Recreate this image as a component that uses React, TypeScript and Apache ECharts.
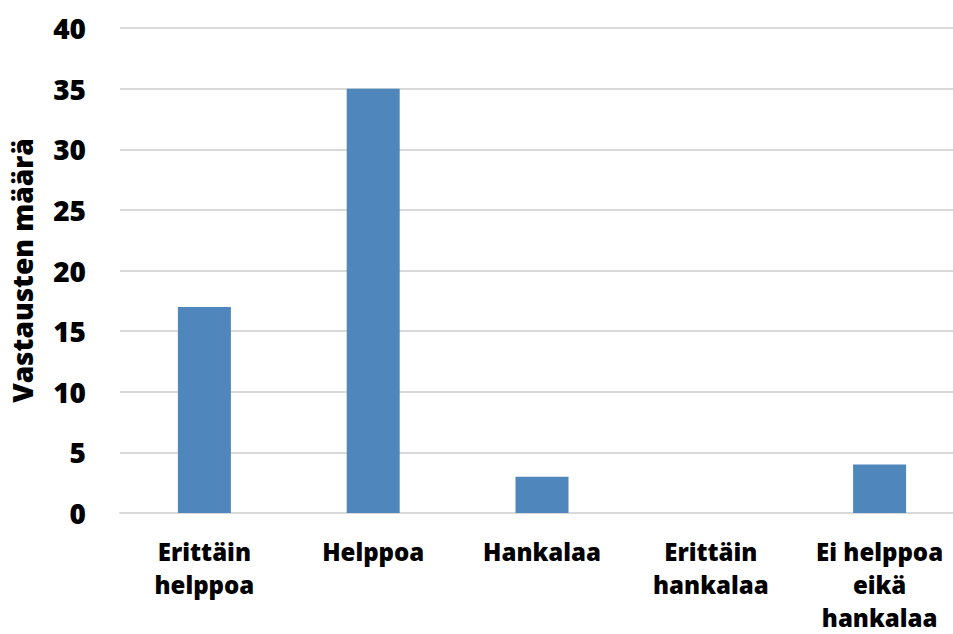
import React, { useEffect, useRef } from "react";
import * as echarts from "echarts";

const categories = [
  "Erittäin\nhelppoa",
  "Helppoa",
  "Hankalaa",
  "Erittäin\nhankalaa",
  "Ei helppoa\neikä\nhankalaa",
];
const responses = [17, 35, 3, 0, 4];
const yTicks = { min: 0, max: 40, interval: 5 };
const yTitle = "Vastausten määrä";

const FONT = "'Open Sans', 'Noto Sans', sans-serif";

export default function App() {
  const ref = useRef<HTMLDivElement>(null);

  useEffect(() => {
    if (!ref.current) return;
    const chart = echarts.init(ref.current, undefined, { renderer: "svg" });
    chart.setOption({
      animation: false,
      grid: { left: 115, right: 0, top: 28, bottom: 117 },
      xAxis: {
        type: "category",
        data: categories,
        axisLine: { show: true, lineStyle: { color: "#d9d9d9", width: 2 } },
        axisTick: { show: false },
        axisLabel: {
          interval: 0,
          margin: 22,
          color: "#000",
          fontFamily: FONT,
          fontWeight: 800,
          fontSize: 24,
          lineHeight: 33,
        },
      },
      yAxis: {
        type: "value",
        min: yTicks.min,
        max: yTicks.max,
        interval: yTicks.interval,
        name: yTitle,
        nameLocation: "middle",
        nameGap: 84,
        nameTextStyle: {
          color: "#000",
          fontFamily: FONT,
          fontWeight: 800,
          fontSize: 28,
        },
        axisLine: { show: false },
        axisTick: { show: false },
        splitLine: { lineStyle: { color: "#d9d9d9", width: 2 } },
        axisLabel: {
          margin: 34,
          color: "#000",
          fontFamily: FONT,
          fontWeight: 800,
          fontSize: 28,
        },
      },
      series: [
        {
          type: "bar",
          data: responses,
          barWidth: 53,
          itemStyle: { color: "#4f87bd" },
        },
      ],
    });
    return () => chart.dispose();
  }, []);

  // The plot runs slightly past the right edge of the visible frame.
  return (
    <div style={{ position: "absolute", left: 0, top: 0, width: 953, height: 634, overflow: "hidden" }}>
      <div ref={ref} style={{ width: 964, height: 634 }} />
    </div>
  );
}
